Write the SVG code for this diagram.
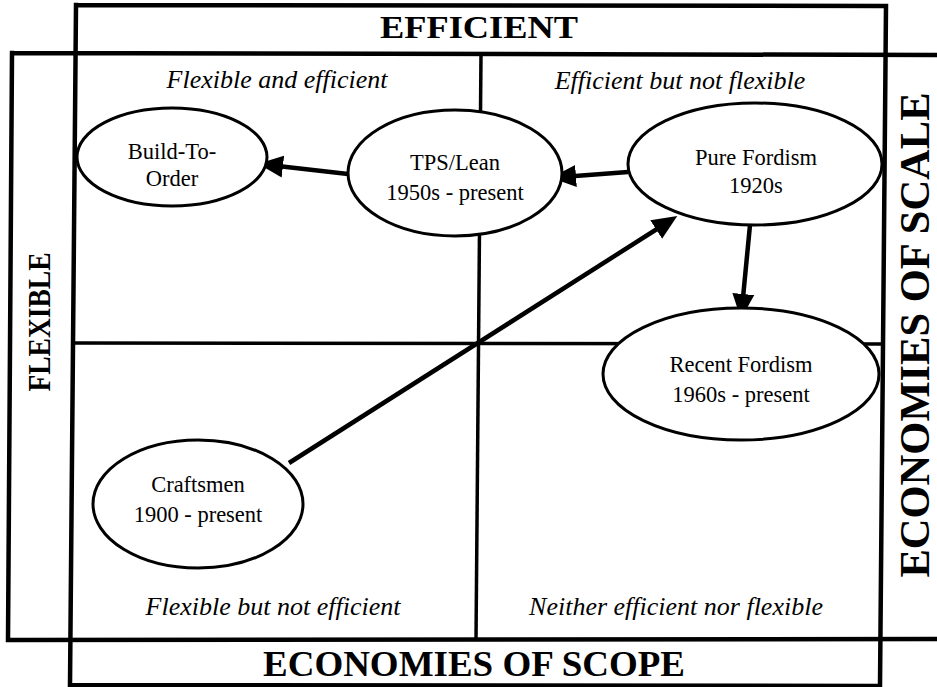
<svg xmlns="http://www.w3.org/2000/svg" width="937" height="687" viewBox="0 0 937 687">
  <style>
    .frame { fill: none; stroke: #000; stroke-width: 4.5; stroke-linecap: square; }
    .grid { fill: none; stroke: #000; stroke-width: 3.5; }
    .node ellipse { fill: #fff; stroke: #000; stroke-width: 3; }
    .node text { font-family: "Liberation Serif", "Times New Roman", serif; font-size: 22.5px; text-anchor: middle; fill: #000; }
    .axis { font-family: "Liberation Serif", "Times New Roman", serif; font-weight: bold; text-anchor: middle; fill: #000; }
    .quad { font-family: "Liberation Serif", "Times New Roman", serif; font-style: italic; font-size: 26px; text-anchor: middle; fill: #000; }
    .edge { fill: none; stroke: #000; stroke-width: 4.5; marker-end: url(#head); }
  </style>
  <defs>
    <marker id="head" markerUnits="userSpaceOnUse" markerWidth="26" markerHeight="24" viewBox="0 0 26 24" refX="14" refY="12" orient="auto">
      <path d="M0,1 L25,12 L0,23 Z" fill="#000"/>
    </marker>
  </defs>

  <!-- outer frames -->
  <g id="frames">
    <path class="frame" d="M76,5 L886,6 M76,5 L70,685 M886,6 L880,686 M70,685 L880,686"/>
    <path class="frame" d="M12,53 L937,55 M12,53 L8,640 M8,640 L937,639"/>
  </g>

  <!-- quadrant dividers -->
  <g id="dividers">
    <path class="grid" d="M481,54 L476,640"/>
    <path class="grid" d="M74,343 L882,344"/>
  </g>

  <!-- axis titles -->
  <g id="axis-labels">
    <text class="axis" x="479" y="38" font-size="32" textLength="198" lengthAdjust="spacingAndGlyphs">EFFICIENT</text>
    <text class="axis" x="474" y="676" font-size="35" textLength="422" lengthAdjust="spacingAndGlyphs">ECONOMIES OF SCOPE</text>
    <text class="axis" transform="translate(50,322) rotate(-90)" x="0" y="0" font-size="32" textLength="139" lengthAdjust="spacingAndGlyphs">FLEXIBLE</text>
    <text class="axis" transform="translate(929,335) rotate(-90)" x="0" y="0" font-size="43" textLength="485" lengthAdjust="spacingAndGlyphs">ECONOMIES OF SCALE</text>
  </g>

  <!-- quadrant captions -->
  <g id="quadrant-labels">
    <text class="quad" x="277" y="88">Flexible and efficient</text>
    <text class="quad" x="680" y="89">Efficient but not flexible</text>
    <text class="quad" x="273" y="615">Flexible but not efficient</text>
    <text class="quad" x="676" y="615">Neither efficient nor flexible</text>
  </g>

  <!-- connectors -->
  <g id="connectors">
    <line class="edge" x1="348" y1="174" x2="269" y2="165"/>
    <line class="edge" x1="628" y1="172" x2="562" y2="177"/>
    <line class="edge" x1="750" y1="225" x2="742" y2="308"/>
  </g>

  <!-- nodes -->
  <g id="build-to-order" class="node">
    <ellipse cx="172" cy="157" rx="95" ry="49"/>
    <text x="172" y="159">Build-To-</text>
    <text x="172" y="186">Order</text>
  </g>
  <g id="tps-lean" class="node">
    <ellipse cx="455" cy="173" rx="107" ry="63"/>
    <text x="455" y="170">TPS/Lean</text>
    <text x="455" y="200">1950s - present</text>
  </g>
  <g id="pure-fordism" class="node">
    <ellipse cx="755" cy="164" rx="127" ry="61"/>
    <text x="756" y="165">Pure Fordism</text>
    <text x="756" y="193">1920s</text>
  </g>
  <g id="recent-fordism" class="node">
    <ellipse cx="741" cy="374" rx="138" ry="66"/>
    <text x="741" y="372">Recent Fordism</text>
    <text x="741" y="402">1960s - present</text>
  </g>
  <g id="craftsmen" class="node">
    <ellipse cx="198" cy="504" rx="105" ry="64"/>
    <text x="198" y="492">Craftsmen</text>
    <text x="198" y="522">1900 - present</text>
  </g>

  <!-- long diagonal drawn over the divider crossing -->
  <g id="connector-diagonal">
    <line class="edge" x1="289" y1="463" x2="668" y2="222"/>
  </g>
</svg>
